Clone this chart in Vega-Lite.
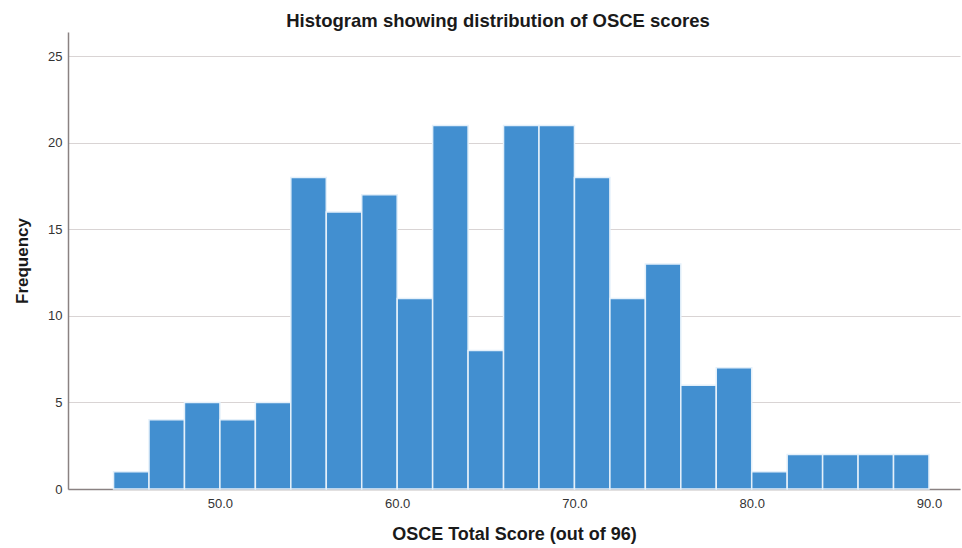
{
  "$schema": "https://vega.github.io/schema/vega-lite/v6.json",
  "autosize": "none",
  "width": 892,
  "height": 457,
  "padding": {"left": 68, "top": 32, "right": 2, "bottom": 59},
  "background": "white",
  "title": {
    "text": "Histogram showing distribution of OSCE scores",
    "font": "Liberation Sans",
    "fontSize": 18.5,
    "fontWeight": "bold",
    "color": "#1a1a1a",
    "anchor": "middle",
    "offset": 2,
    "dx": -16
  },
  "data": {
    "values": [
      {"bin_start": 44, "bin_end": 46, "count": 1},
      {"bin_start": 46, "bin_end": 48, "count": 4},
      {"bin_start": 48, "bin_end": 50, "count": 5},
      {"bin_start": 50, "bin_end": 52, "count": 4},
      {"bin_start": 52, "bin_end": 54, "count": 5},
      {"bin_start": 54, "bin_end": 56, "count": 18},
      {"bin_start": 56, "bin_end": 58, "count": 16},
      {"bin_start": 58, "bin_end": 60, "count": 17},
      {"bin_start": 60, "bin_end": 62, "count": 11},
      {"bin_start": 62, "bin_end": 64, "count": 21},
      {"bin_start": 64, "bin_end": 66, "count": 8},
      {"bin_start": 66, "bin_end": 68, "count": 21},
      {"bin_start": 68, "bin_end": 70, "count": 21},
      {"bin_start": 70, "bin_end": 72, "count": 18},
      {"bin_start": 72, "bin_end": 74, "count": 11},
      {"bin_start": 74, "bin_end": 76, "count": 13},
      {"bin_start": 76, "bin_end": 78, "count": 6},
      {"bin_start": 78, "bin_end": 80, "count": 7},
      {"bin_start": 80, "bin_end": 82, "count": 1},
      {"bin_start": 82, "bin_end": 84, "count": 2},
      {"bin_start": 84, "bin_end": 86, "count": 2},
      {"bin_start": 86, "bin_end": 88, "count": 2},
      {"bin_start": 88, "bin_end": 90, "count": 2}
    ]
  },
  "mark": {"type": "bar", "color": "#428fd0", "stroke": "#e4f0fa", "strokeWidth": 1.5},
  "encoding": {
    "x": {
      "field": "bin_start",
      "type": "quantitative",
      "scale": {"domain": [41.43, 91.75], "nice": false, "zero": false},
      "axis": {
        "title": "OSCE Total Score (out of 96)",
        "values": [50, 60, 70, 80, 90],
        "format": ".1f",
        "grid": false,
        "ticks": false,
        "labelPadding": 8,
        "labelFont": "Liberation Sans",
        "labelFontSize": 13,
        "labelColor": "#333333",
        "domainColor": "#8a8282",
        "domainWidth": 1.5,
        "titleFont": "Liberation Sans",
        "titleFontSize": 18,
        "titleFontWeight": "bold",
        "titleColor": "#1a1a1a",
        "titlePadding": 15
      }
    },
    "x2": {"field": "bin_end"},
    "y": {
      "field": "count",
      "type": "quantitative",
      "scale": {"domain": [0, 26.4], "nice": false},
      "axis": {
        "title": "Frequency",
        "values": [0, 5, 10, 15, 20, 25],
        "grid": true,
        "gridColor": "#d9d4d4",
        "gridWidth": 1,
        "ticks": false,
        "labelPadding": 6,
        "labelFont": "Liberation Sans",
        "labelFontSize": 13,
        "labelColor": "#333333",
        "domainColor": "#8a8282",
        "domainWidth": 1.5,
        "titleFont": "Liberation Sans",
        "titleFontSize": 17,
        "titleFontWeight": "bold",
        "titleColor": "#1a1a1a",
        "titlePadding": 16
      }
    },
    "y2": {"datum": 0}
  },
  "config": {"view": {"stroke": null}}
}
